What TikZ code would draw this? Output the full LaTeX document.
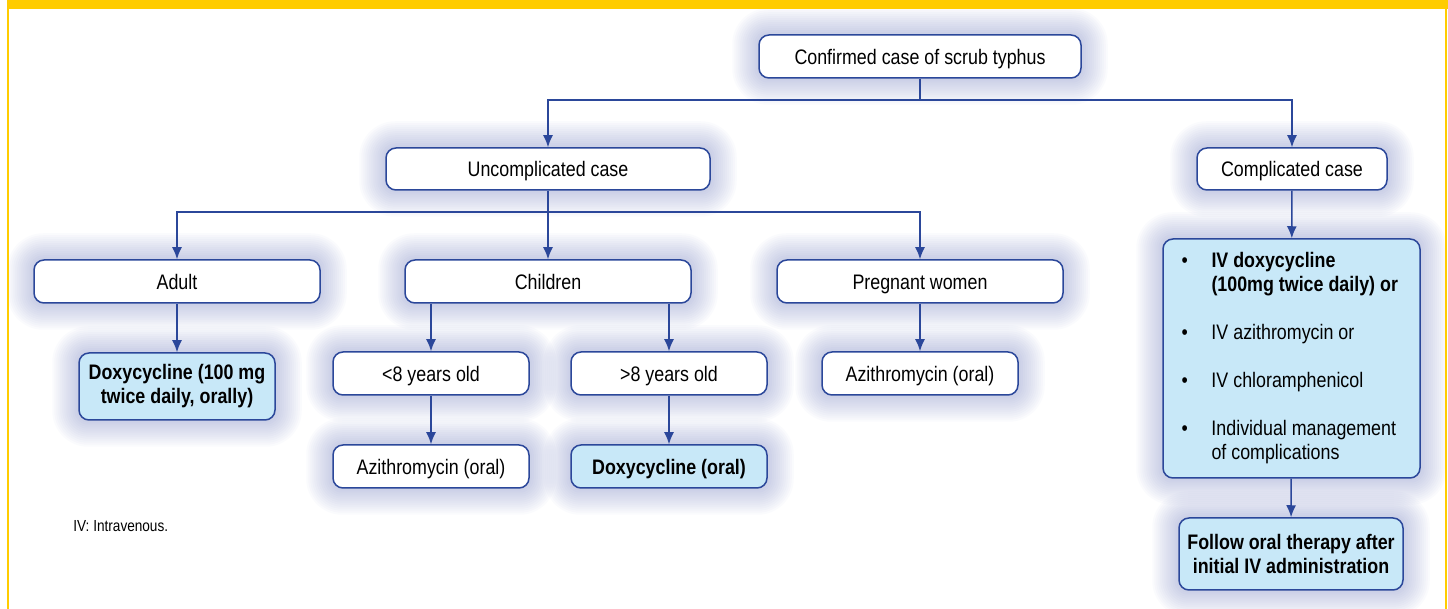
\documentclass[tikz,border=0pt]{standalone}
\usepackage{fontspec}
\setmainfont{Liberation Sans}[FakeStretch=0.85]
\usepackage{xcolor}
\usepackage{tikz}
\usetikzlibrary{backgrounds}
\usetikzlibrary{arrows.meta}
\definecolor{linieblau}{RGB}{43,71,154}
\definecolor{kastenblau}{RGB}{200,232,248}
\definecolor{rahmengelb}{RGB}{255,204,0}
\definecolor{schein}{RGB}{105,118,185}
\tikzset{
  Kasten/.style={draw=linieblau, line width=0.75pt, fill=white, rounded corners=5pt,
    inner sep=2pt, align=center, minimum height=21.5pt,
    text height=7.7pt, text depth=0pt}, % weisse Kaesten
  BKasten/.style={Kasten, fill=kastenblau, font=\fontsize{10.5}{12}\bfseries}, % blaue Kaesten
  Mehrzeilig/.style={text height=, text depth=}, % fuer Kaesten mit zwei Zeilen
  Linie/.style={draw=linieblau, line width=0.75pt}, % Leiterbahnen
  Pfeil/.style={Linie, ->}, % fuer Pfeile
  Schein/.style={fill=schein, opacity=0.033} % Schatten um die Kaesten
}

\begin{document}
\begin{tikzpicture}[x=0.5pt, y=-0.5pt,
font=\fontsize{10.5}{12}\selectfont,
>={Latex[length=6pt,width=5pt]} % Voreinstellung fuer Pfeilspitzen
]
\useasboundingbox (0,0) rectangle (1448,609);

%Rahmen
\fill[rahmengelb] (7,0) rectangle (1448,9);
\fill[rahmengelb] (7,9) rectangle (8.6,609);
\fill[rahmengelb] (1445,9) rectangle (1447,609);

%Kaesten
\node[Kasten, minimum width=161pt] (conf) at (920,56.5) {Confirmed case of scrub typhus};
\node[Kasten, minimum width=162pt, minimum height=21pt] (uncomp) at (548,169) {Uncomplicated case};
\node[Kasten, minimum width=95pt, minimum height=21pt] (comp) at (1292,169) {Complicated case};
\node[Kasten, minimum width=143pt] (adult) at (177,281.5) {Adult};
\node[Kasten, minimum width=143pt] (child) at (548,281.5) {Children};
\node[Kasten, minimum width=143pt] (preg) at (920,281.5) {Pregnant women};
\node[BKasten, Mehrzeilig, minimum width=98pt, minimum height=33.5pt] (doxA) at (177,386.5)
  {Doxycycline (100 mg\\twice daily, orally)};
\node[Kasten, minimum width=98pt] (lt8) at (431,373.5) {<8 years old};
\node[Kasten, minimum width=98pt] (gt8) at (669,373.5) {>8 years old};
\node[Kasten, minimum width=98pt] (aziP) at (920,373.5) {Azithromycin (oral)};
\node[Kasten, minimum width=98pt] (aziC) at (431,466.5) {Azithromycin (oral)};
\node[BKasten, minimum width=98pt] (doxC) at (669,466.5) {Doxycycline (oral)};
\node[Kasten, Mehrzeilig, fill=kastenblau, minimum width=128.5pt, minimum height=119.5pt, inner sep=0pt]
  (iv) at (1291.5,358.5) {%
  \begin{tabular}{@{}p{15pt}@{}p{95pt}@{}}
  \textbullet & \textbf{IV doxycycline}\\
   & \textbf{(100mg twice daily) or}\\[12pt]
  \textbullet & IV azithromycin or\\[12pt]
  \textbullet & IV chloramphenicol\\[12pt]
  \textbullet & Individual management\\
   & of complications
  \end{tabular}};
\node[BKasten, Mehrzeilig, minimum width=112pt, minimum height=36pt] (follow) at (1291,554)
  {Follow oral therapy after\\initial IV administration};
\node[anchor=base west, inner sep=0pt, font=\fontsize{8}{9}\selectfont] (note) at (73,531)
  {IV: Intravenous.};

%Schein
\begin{scope}[on background layer]
\foreach \n in {conf,uncomp,comp,adult,child,preg,doxA,lt8,gt8,aziP,aziC,doxC,iv,follow}
  \foreach \r [evaluate=\r as \d using 0.6*\r] in {1,...,13}
    \fill[Schein, rounded corners=5pt+\d pt]
      ([shift={(-\d pt,\d pt)}]\n.north west) rectangle ([shift={(\d pt,-\d pt)}]\n.south east);
\end{scope}

%Leiterbahnen
\coordinate (k1) at (920,100);
\coordinate (k2) at (548,212);
\draw[Linie] (conf) -- (k1);
\draw[Pfeil] (k1) -| (uncomp.north);
\draw[Pfeil] (k1) -| (comp.north);
\draw[Linie] (uncomp) -- (k2);
\draw[Pfeil] (k2) -| (adult.north);
\draw[Pfeil] (k2) -- (child);
\draw[Pfeil] (k2) -| (preg.north);

%Pfeile
\draw[Pfeil] (adult) -- (doxA);
\draw[Pfeil] (child.south -| lt8) -- (lt8);
\draw[Pfeil] (child.south -| gt8) -- (gt8);
\draw[Pfeil] (preg) -- (aziP);
\draw[Pfeil] (lt8) -- (aziC);
\draw[Pfeil] (gt8) -- (doxC);
\draw[Pfeil] (comp) -- (iv);
\draw[Pfeil] (iv) -- (follow);

\end{tikzpicture}
\end{document}
